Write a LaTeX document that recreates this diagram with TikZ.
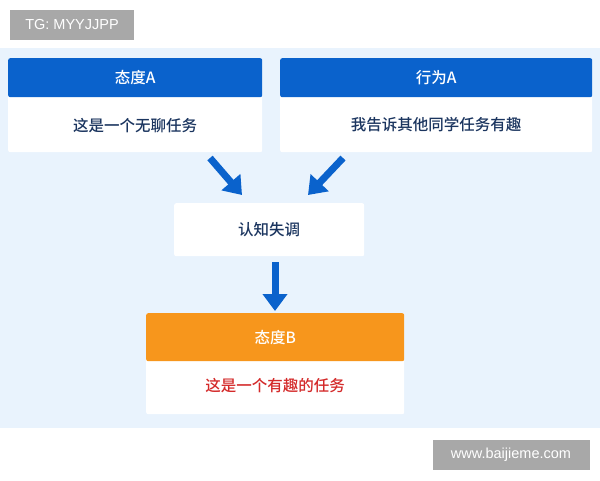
\documentclass[tikz,border=0pt]{standalone}
\usepackage{fontspec}
\setmainfont{Noto Sans CJK SC}[BoldFont={Noto Sans CJK SC Medium}]
\setsansfont{Liberation Sans}
\usetikzlibrary{arrows.meta,positioning}
\definecolor{hdblue}{HTML}{0A62CC}
\definecolor{hdorange}{HTML}{F7961C}
\definecolor{bgblue}{HTML}{E9F3FD}
\definecolor{txtblue}{HTML}{1B355F}
\definecolor{txtred}{HTML}{D42A2A}
\definecolor{markgray}{HTML}{A8A8A8}
\tikzset{
  head/.style={fill=#1, text=white, anchor=north west, inner sep=0pt, rounded corners=2pt, font=\bfseries\fontsize{15.5}{15.5}\selectfont},
  body/.style={fill=white, text=txtblue, anchor=north west, inner sep=0pt, rounded corners=2pt, font=\bfseries\fontsize{15.5}{15.5}\selectfont},
  bigarrow/.style={draw=hdblue, line width=7pt, -{Triangle[length=17pt,width=24pt]}},
  wmark/.style={fill=markgray, text=white, inner sep=0pt, font=\sffamily\fontsize{14.5}{14.5}\selectfont}
}
\begin{document}
\begin{tikzpicture}[x=1pt,y=-1pt]
  \useasboundingbox (0,0) rectangle (600,480);
  % background band
  \fill[bgblue] (0,48) rectangle (600,428);

  % attitude A
  \node[body, minimum width=254pt, minimum height=94pt] (attAbody) at (8,58) {\raisebox{-53pt}{这是一个无聊任务}};
  \node[head=hdblue, minimum width=254pt, minimum height=39pt] (attA) at (8,58) {态度A};
  % behaviour A
  \node[body, minimum width=312pt, minimum height=94pt] (behAbody) at (280,58) {\raisebox{-53pt}{我告诉其他同学任务有趣}};
  \node[head=hdblue, minimum width=312pt, minimum height=39pt] (behA) at (280,58) {行为A};
  % dissonance
  \node[body, minimum width=190pt, minimum height=53pt] (diss) at (174,203) {认知失调};
  % attitude B
  \node[body, text=txtred, minimum width=258pt, minimum height=101pt] (attBbody) at (146,313) {\raisebox{-56pt}{这是一个有趣的任务}};
  \node[head=hdorange, minimum width=258pt, minimum height=48pt] (attB) at (146,313) {态度B};

  % arrows
  \coordinate (a1) at (210,158);
  \coordinate (a1e) at (242,195);
  \coordinate (a2) at (343,158);
  \coordinate (a2e) at (308,195);
  \coordinate (a3) at (275,262);
  \coordinate (a3e) at (275,311);
  \draw[bigarrow] (a1) -- (a1e);
  \draw[bigarrow] (a2) -- (a2e);
  \draw[bigarrow] (a3) -- (a3e);

  % watermarks
  \node[wmark, minimum width=124pt, minimum height=30pt] (tg) at (72,25) {TG: MYYJJPP};
  \node[wmark, minimum width=157pt, minimum height=30pt] (site) at (511,455) {www.baijieme.com};
\end{tikzpicture}
\end{document}
